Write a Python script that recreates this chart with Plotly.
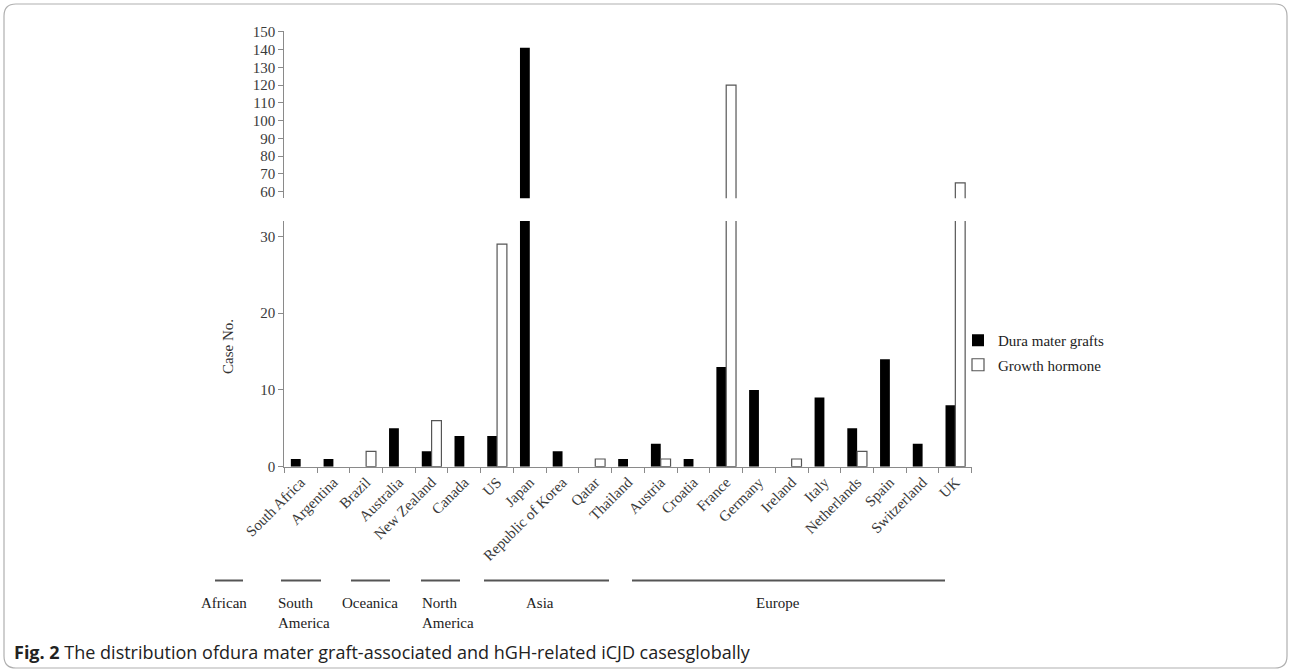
import plotly.graph_objects as go

countries = ["South Africa", "Argentina", "Brazil", "Australia", "New Zealand", "Canada",
             "US", "Japan", "Republic of Korea", "Qatar", "Thailand", "Austria", "Croatia",
             "France", "Germany", "Ireland", "Italy", "Netherlands", "Spain", "Switzerland", "UK"]
dura = [1, 1, 0, 5, 2, 4, 4, 141, 2, 0, 1, 3, 1, 13, 10, 0, 9, 5, 14, 3, 8]
growth = [0, 0, 2, 0, 6, 0, 29, 0, 0, 1, 0, 1, 0, 120, 0, 1, 0, 2, 0, 0, 65]
series_names = ["Dura mater grafts", "Growth hormone"]
regions = ["African", "South<br>America", "Oceanica", "North<br>America", "Asia", "Europe"]
lower_ticks = [0, 10, 20, 30]
upper_ticks = [60, 70, 80, 90, 100, 110, 120, 130, 140, 150]

W, H = 1292, 672
def px(x):
    return x / W
def py(y):
    return 1 - y / H

SERIF = "Liberation Serif"
AXC = "#8a8a8a"

# zero-count bars are not drawn in the original (no outline stub)
dura_shown = [v if v else None for v in dura]
growth_shown = [v if v else None for v in growth]

fig = go.Figure()
for xa, ya, show in [("x", "y", True), ("x2", "y2", False)]:
    fig.add_trace(go.Bar(x=countries, y=dura_shown, name=series_names[0], xaxis=xa, yaxis=ya,
                         marker=dict(color="black", line=dict(color="black", width=0)),
                         showlegend=show, legendgroup="d"))
    fig.add_trace(go.Bar(x=countries, y=growth_shown, name=series_names[1], xaxis=xa, yaxis=ya,
                         marker=dict(color="white", line=dict(color="#555555", width=1.2)),
                         showlegend=show, legendgroup="g"))

tickfont = dict(family=SERIF, size=15, color="#3a3a3a")
fig.update_layout(
    width=W, height=H, margin=dict(l=0, r=0, t=0, b=0, autoexpand=False),
    paper_bgcolor="white", plot_bgcolor="white",
    barmode="group", bargap=0.4, bargroupgap=0,
    xaxis=dict(domain=[px(284.3), px(971.7)], anchor="y", type="category", automargin=False,
               tickson="boundaries", ticks="outside", ticklen=5, tickcolor=AXC,
               showline=True, linecolor=AXC, linewidth=1, showgrid=False,
               tickangle=-45, tickfont=tickfont),
    xaxis2=dict(domain=[px(284.3), px(971.7)], anchor="y2", matches="x", visible=False,
                type="category", automargin=False),
    yaxis=dict(domain=[py(466.7), py(221)], range=[0, 32], anchor="x", automargin=False,
               tickvals=lower_ticks, ticks="outside", ticklen=5, tickcolor=AXC,
               showline=True, linecolor=AXC, linewidth=1, showgrid=False, zeroline=False,
               tickfont=tickfont),
    yaxis2=dict(domain=[py(198.3), py(31)], range=[56.3, 150.4], anchor="x2", automargin=False,
                tickvals=upper_ticks, ticks="outside", ticklen=5, tickcolor=AXC,
                showline=True, linecolor=AXC, linewidth=1, showgrid=False, zeroline=False,
                tickfont=tickfont),
    legend=dict(x=px(958), y=py(324), xanchor="left", yanchor="top",
                font=dict(family=SERIF, size=15, color="#222222"),
                itemwidth=30, tracegroupgap=2, bgcolor="rgba(0,0,0,0)"),
)

fig.add_annotation(text="Case No.", xref="paper", yref="paper", x=px(228), y=py(347),
                   textangle=-90, showarrow=False, xanchor="center", yanchor="middle",
                   font=dict(family=SERIF, size=15, color="#333333"))

# region brackets below the axis
line_spans = [(215, 243), (281, 321), (351, 390), (421, 460), (484, 609), (632, 945)]
label_pos = [(224, "center"), (276, "left"), (370, "center"), (420, "left"), (540, "center"), (778, "center")]
for (x0, x1), (lx, al), name in zip(line_spans, label_pos, regions):
    fig.add_shape(type="line", xref="paper", yref="paper", x0=px(x0), x1=px(x1),
                  y0=py(580.5), y1=py(580.5), line=dict(color="#555555", width=2))
    fig.add_annotation(text=name, xref="paper", yref="paper", x=px(lx), y=py(593),
                       xanchor=al, yanchor="top", align="left", showarrow=False,
                       font=dict(family=SERIF, size=15, color="#222222"))

# caption
fig.add_annotation(text="<b>Fig. 2</b> The distribution ofdura mater graft-associated and hGH-related iCJD casesglobally",
                   xref="paper", yref="paper", x=px(12), y=py(652), xanchor="left", yanchor="middle",
                   showarrow=False, font=dict(family="Open Sans", size=18, color="#222222"))

# rounded frame
r = 12
x0, y0, x1, y1 = 4, 4, 1287, 668
path = (f"M {px(x0+r)},{py(y0)} L {px(x1-r)},{py(y0)} Q {px(x1)},{py(y0)} {px(x1)},{py(y0+r)} "
        f"L {px(x1)},{py(y1-r)} Q {px(x1)},{py(y1)} {px(x1-r)},{py(y1)} "
        f"L {px(x0+r)},{py(y1)} Q {px(x0)},{py(y1)} {px(x0)},{py(y1-r)} "
        f"L {px(x0)},{py(y0+r)} Q {px(x0)},{py(y0)} {px(x0+r)},{py(y0)} Z")
fig.add_shape(type="path", xref="paper", yref="paper", path=path,
              line=dict(color="#b0b0b0", width=1.2), layer="below")

fig.write_html("out.html", config={"displayModeBar": False},
               post_script="document.body.style.margin='0';document.body.style.overflow='hidden';")
